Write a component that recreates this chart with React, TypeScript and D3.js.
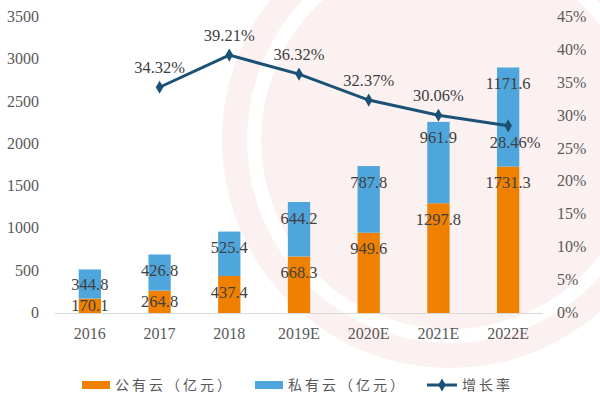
import React from 'react';
import * as d3 from 'd3';

const years = ['2016', '2017', '2018', '2019E', '2020E', '2021E', '2022E'];
const publicCloud = [170.1, 264.8, 437.4, 668.3, 949.6, 1297.8, 1731.3];
const privateCloud = [344.8, 426.8, 525.4, 644.2, 787.8, 961.9, 1171.6];
const growth = [null, 34.32, 39.21, 36.32, 32.37, 30.06, 28.46];
const leftTicks = [0, 500, 1000, 1500, 2000, 2500, 3000, 3500];
const rightTicks = [0, 5, 10, 15, 20, 25, 30, 35, 40, 45];

const W = 600;
const H = 397;
const serif = '"Liberation Serif", "DejaVu Serif", serif';
const cjk = '"Noto Sans CJK SC", sans-serif';

const App = () => {
  const x = d3.scaleBand().domain(years).range([55, 543]).paddingInner(0.68).paddingOuter(0.34);
  const y = d3.scaleLinear().domain([0, 3500]).range([313, 17]);
  const yr = d3.scaleLinear().domain([0, 45]).range([313, 17]);
  const cx = (d: string) => (x(d) as number) + x.bandwidth() / 2;
  // label sits near the top of its segment, or centred when the segment is short
  const labelY = (lo: number, hi: number) => Math.min(y(hi) + 16, (y(lo) + y(hi)) / 2) + 5.5;

  const pts = years
    .map((d, i) => ({ d, v: growth[i] }))
    .filter(p => p.v !== null) as { d: string; v: number }[];
  const line = d3.line<{ d: string; v: number }>().x(p => cx(p.d)).y(p => yr(p.v));
  const diamond = d3.symbol().type(d3.symbolDiamond).size(50)() as string;

  return (
    <svg width={W} height={H} style={{ position: 'absolute', left: 0, top: 0, background: '#fff' }}>
      {/* faint watermark */}
      <g opacity={0.55}>
        <circle cx={450} cy={140} r={228} fill="#fbe6e6" />
        <circle cx={450} cy={140} r={196} fill="none" stroke="#fff" strokeWidth={14} />
      </g>

      {years.map((d, i) => (
        <g key={d}>
          <rect x={x(d)} width={x.bandwidth()} y={y(publicCloud[i])} height={y(0) - y(publicCloud[i])} fill="#F08100" />
          <rect
            x={x(d)}
            width={x.bandwidth()}
            y={y(publicCloud[i] + privateCloud[i])}
            height={y(0) - y(privateCloud[i])}
            fill="#4EA6DC"
          />
        </g>
      ))}

      <line x1={55} x2={543} y1={313.5} y2={313.5} stroke="#d9d9d9" strokeWidth={1} />

      {years.map((d, i) => (
        <g key={'l' + d} fontFamily={serif} fontSize={16.5} fill="#404040" textAnchor="middle">
          <text x={cx(d)} y={labelY(0, publicCloud[i])}>{publicCloud[i].toFixed(1)}</text>
          <text x={cx(d)} y={labelY(publicCloud[i], publicCloud[i] + privateCloud[i])}>
            {privateCloud[i].toFixed(1)}
          </text>
        </g>
      ))}

      <path d={line(pts) as string} fill="none" stroke="#1B5174" strokeWidth={3} />
      {pts.map((p, i) => (
        <g key={'g' + p.d}>
          <path d={diamond} transform={`translate(${cx(p.d)},${yr(p.v)})`} fill="#1B5174" />
          <text
            x={cx(p.d) + (i === pts.length - 1 ? 7 : 0)}
            y={i === pts.length - 1 ? yr(p.v) + 22 : yr(p.v) - 14}
            fontFamily={serif}
            fontSize={16.5}
            fill="#404040"
            textAnchor="middle"
          >
            {p.v.toFixed(2)}%
          </text>
        </g>
      ))}

      <g fontFamily={serif} fontSize={16} fill="#595959">
        {leftTicks.map(t => (
          <text key={'y' + t} x={39} y={y(t) + 5} textAnchor="end">{t}</text>
        ))}
        {rightTicks.map(t => (
          <text key={'r' + t} x={557} y={yr(t) + 5} textAnchor="start">{t}%</text>
        ))}
        {years.map(d => (
          <text key={'x' + d} x={cx(d)} y={339} textAnchor="middle">{d}</text>
        ))}
      </g>

      <g fontFamily={cjk} fontSize={14} fill="#595959">
        <rect x={82} y={381} width={28} height={8} fill="#F08100" />
        <text x={115} y={390} letterSpacing={3}>公有云（亿元）</text>
        <rect x={255} y={381} width={28} height={8} fill="#4EA6DC" />
        <text x={288} y={390} letterSpacing={3}>私有云（亿元）</text>
        <line x1={427} x2={457} y1={385} y2={385} stroke="#1B5174" strokeWidth={3} />
        <path d={diamond} transform="translate(442,385)" fill="#1B5174" />
        <text x={462} y={390} letterSpacing={3}>增长率</text>
      </g>
    </svg>
  );
};

export default App;
